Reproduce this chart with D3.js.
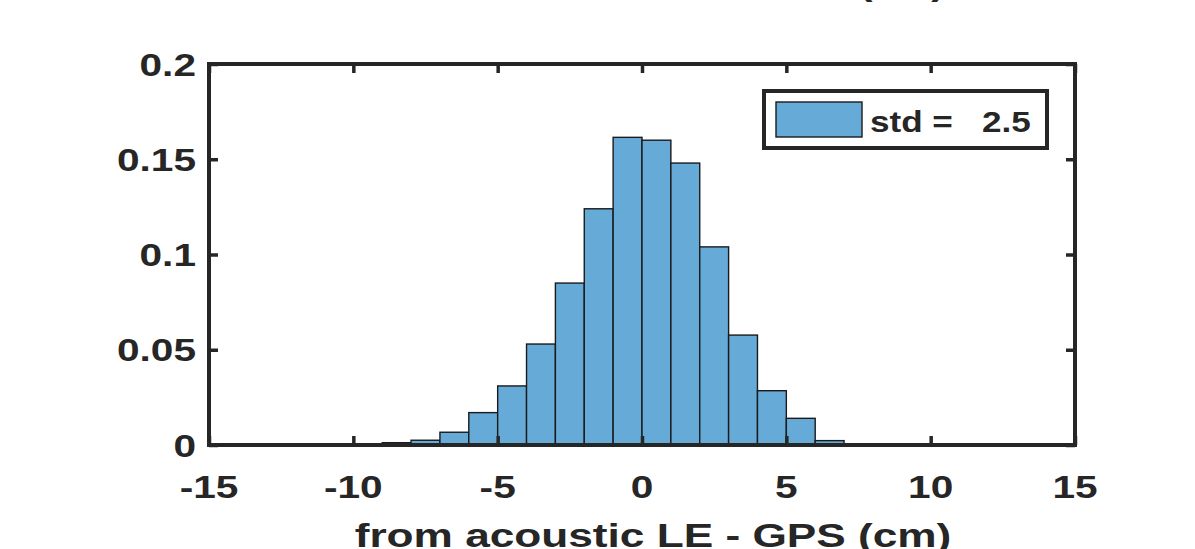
<!DOCTYPE html>
<html>
<head>
<meta charset="utf-8">
<script src="https://cdnjs.cloudflare.com/ajax/libs/d3/7.8.5/d3.min.js"></script>
<style>
    body { margin: 0; background: #fff; }
    svg { display: block; }
    text { font-family: "Liberation Sans", Arial, Helvetica, sans-serif; font-weight: bold; fill: #262626; }
</style>
</head>
<body>
<svg id="base" width="1195" height="549"></svg>
<script>
// data
const binStarts = [-9, -8, -7, -6, -5, -4, -3, -2, -1, 0, 1, 2, 3, 4, 5, 6];
const binWidth = 1;
const probabilities = [0.0012, 0.0025, 0.0067, 0.017, 0.031, 0.053, 0.085, 0.124, 0.1615, 0.160, 0.148, 0.104, 0.0577, 0.0285, 0.014, 0.0023];
const xTicks = [-15, -10, -5, 0, 5, 10, 15];
const yTicks = [0, 0.05, 0.1, 0.15, 0.2];
const legendLabel = "std =   2.5";
const xLabel = "from acoustic LE - GPS (cm)";
const titleText = "(cm)";

(function () {
    const svg = d3.select("#base");
    const stretch = 1.27; // text looks horizontally widened in the picture

    const plotLeft = 209, plotRight = 1075, plotTop = 64, plotBottom = 445;

    const x = d3.scaleLinear().domain([-15, 15]).range([plotLeft, plotRight]);
    const y = d3.scaleLinear().domain([0, 0.2]).range([plotBottom, plotTop]);

    const axisColor = "#262626";

    // bars
    const bins = binStarts.map((b, i) => ({ x0: b, x1: b + binWidth, v: probabilities[i] }));

    svg.append("g")
        .selectAll("rect")
        .data(bins)
        .enter()
        .append("rect")
        .attr("x", (d) => x(d.x0))
        .attr("y", (d) => y(d.v))
        .attr("width", (d) => x(d.x1) - x(d.x0))
        .attr("height", (d) => y(0) - y(d.v))
        .attr("fill", "#66aad8")
        .attr("stroke", "#1a1a1a")
        .attr("stroke-width", 1.4);

    // axes (ticks inward on all sides, box)
    const tickLen = 9;
    const axisStyle = (g) => {
        g.select(".domain").remove();
        g.selectAll(".tick line").attr("stroke", axisColor).attr("stroke-width", 3.5);
        g.selectAll(".tick text").remove();
    };

    svg.append("g")
        .attr("transform", `translate(0,${plotBottom})`)
        .call(d3.axisBottom(x).tickValues(xTicks).tickSize(-tickLen))
        .call(axisStyle);
    svg.append("g")
        .attr("transform", `translate(0,${plotTop})`)
        .call(d3.axisTop(x).tickValues(xTicks).tickSize(-tickLen))
        .call(axisStyle);
    svg.append("g")
        .attr("transform", `translate(${plotLeft},0)`)
        .call(d3.axisLeft(y).tickValues(yTicks).tickSize(-tickLen))
        .call(axisStyle);
    svg.append("g")
        .attr("transform", `translate(${plotRight},0)`)
        .call(d3.axisRight(y).tickValues(yTicks).tickSize(-tickLen))
        .call(axisStyle);

    svg.append("rect")
        .attr("x", plotLeft)
        .attr("y", plotTop)
        .attr("width", plotRight - plotLeft)
        .attr("height", plotBottom - plotTop)
        .attr("fill", "none")
        .attr("stroke", axisColor)
        .attr("stroke-width", 4);

    // tick labels
    svg.append("g")
        .selectAll("g")
        .data(xTicks)
        .enter()
        .append("g")
        .attr("transform", (d) => `translate(${x(d)},498) scale(${stretch},1)`)
        .append("text")
        .attr("text-anchor", "middle")
        .attr("font-size", 32)
        .text((d) => String(d));

    svg.append("g")
        .selectAll("g")
        .data(yTicks)
        .enter()
        .append("g")
        .attr("transform", (d) => `translate(${plotLeft - 13},${y(d) + 11.5}) scale(${stretch},1)`)
        .append("text")
        .attr("text-anchor", "end")
        .attr("font-size", 32)
        .text((d) => d);

    // x label (cut by the bottom edge, as in the picture)
    svg.append("g")
        .attr("transform", `translate(${x(0) + 11},547) scale(1.3,1)`)
        .append("text")
        .attr("text-anchor", "middle")
        .attr("font-size", 34)
        .text(xLabel);

    // title (almost entirely above the top edge)
    svg.append("g")
        .attr("transform", `translate(902,-5) scale(${stretch},1)`)
        .append("text")
        .attr("text-anchor", "middle")
        .attr("font-size", 32)
        .text(titleText);

    // legend
    const legend = svg.append("g");
    legend.append("rect")
        .attr("x", 764)
        .attr("y", 91)
        .attr("width", 283)
        .attr("height", 57)
        .attr("fill", "#fff")
        .attr("stroke", axisColor)
        .attr("stroke-width", 4);
    legend.append("rect")
        .attr("x", 776)
        .attr("y", 102)
        .attr("width", 86)
        .attr("height", 35)
        .attr("fill", "#66aad8")
        .attr("stroke", "#1a1a1a")
        .attr("stroke-width", 1.4);
    legend.append("g")
        .attr("transform", "translate(870,132) scale(1.17,1)")
        .append("text")
        .attr("font-size", 30)
        .style("white-space", "pre")
        .attr("fill", "#000")
        .text(legendLabel);
})();
</script>
</body>
</html>
